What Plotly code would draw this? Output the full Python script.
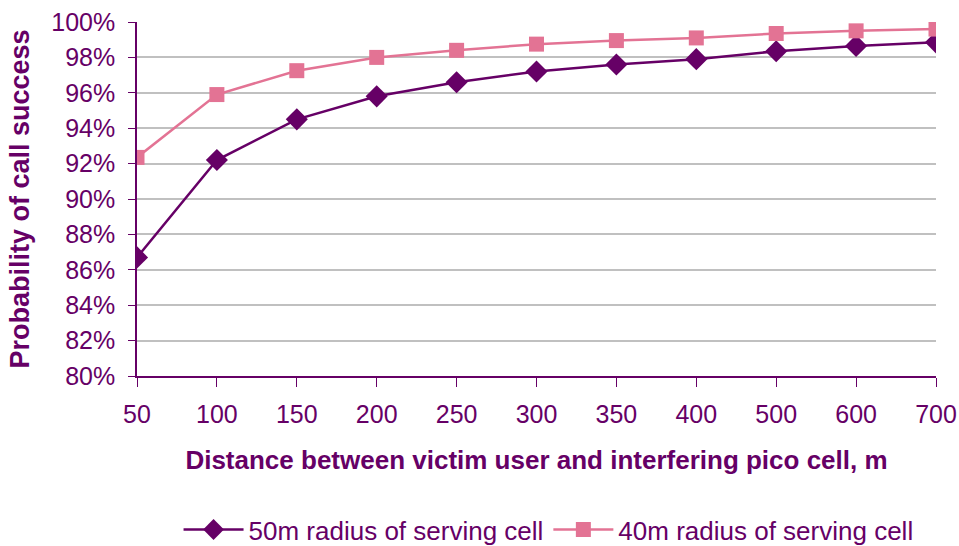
import plotly.graph_objects as go

distances = ["50", "100", "150", "200", "250", "300", "350", "400", "500", "600", "700"]
radius_50m = [86.7, 92.2, 94.5, 95.8, 96.6, 97.2, 97.6, 97.9, 98.35, 98.65, 98.85]
radius_40m = [92.35, 95.9, 97.25, 98.0, 98.4, 98.75, 98.95, 99.1, 99.35, 99.5, 99.6]
y_ticks = [80, 82, 84, 86, 88, 90, 92, 94, 96, 98, 100]
y_tick_labels = [f"{v}%" for v in y_ticks]

purple = "#660066"
pink = "#E37394"
font_family = "Liberation Sans, Arial, sans-serif"

fig = go.Figure()
fig.add_trace(go.Scatter(
    x=distances, y=radius_50m, mode="lines+markers",
    name="50m radius of serving cell",
    line=dict(color=purple, width=2.5),
    marker=dict(symbol="diamond", size=17, color=purple),
))
fig.add_trace(go.Scatter(
    x=distances, y=radius_40m, mode="lines+markers",
    name="40m radius of serving cell",
    line=dict(color=pink, width=2.5),
    marker=dict(symbol="square", size=15, color=pink),
))

fig.update_layout(
    width=959, height=546,
    margin=dict(l=137, r=23, t=22, b=170, autoexpand=False),
    plot_bgcolor="white", paper_bgcolor="white",
    font=dict(family=font_family, color=purple, size=26),
    showlegend=True,
    legend=dict(orientation="h", x=0.572, y=0.03, xref="container", yref="container",
                xanchor="center", yanchor="middle",
                font=dict(size=26, color=purple), itemwidth=60, tracegroupgap=0),
    xaxis=dict(
        type="category", range=[0, 10], automargin=False,
        showgrid=False, showline=True, linecolor=purple, linewidth=1.5,
        ticks="outside", ticklen=9, tickcolor=purple, tickwidth=1,
        tickfont=dict(size=25, color=purple), ticklabelstandoff=6,
        title=dict(text="<b>Distance between victim user and interfering pico cell, m</b>",
                   font=dict(size=26, color=purple), standoff=24),
    ),
    yaxis=dict(
        range=[80, 100], tickvals=y_ticks, ticktext=y_tick_labels, automargin=False,
        showgrid=True, gridcolor="#C0C0C0", gridwidth=2,
        showline=True, linecolor=purple, linewidth=1.5,
        ticks="outside", ticklen=7, tickcolor=purple,
        tickfont=dict(size=25, color=purple), zeroline=False, ticklabelstandoff=8,
        title=dict(text="<b>Probability of call success</b>",
                   font=dict(size=27, color=purple), standoff=14),
    ),
)

fig.write_html("out.html")
